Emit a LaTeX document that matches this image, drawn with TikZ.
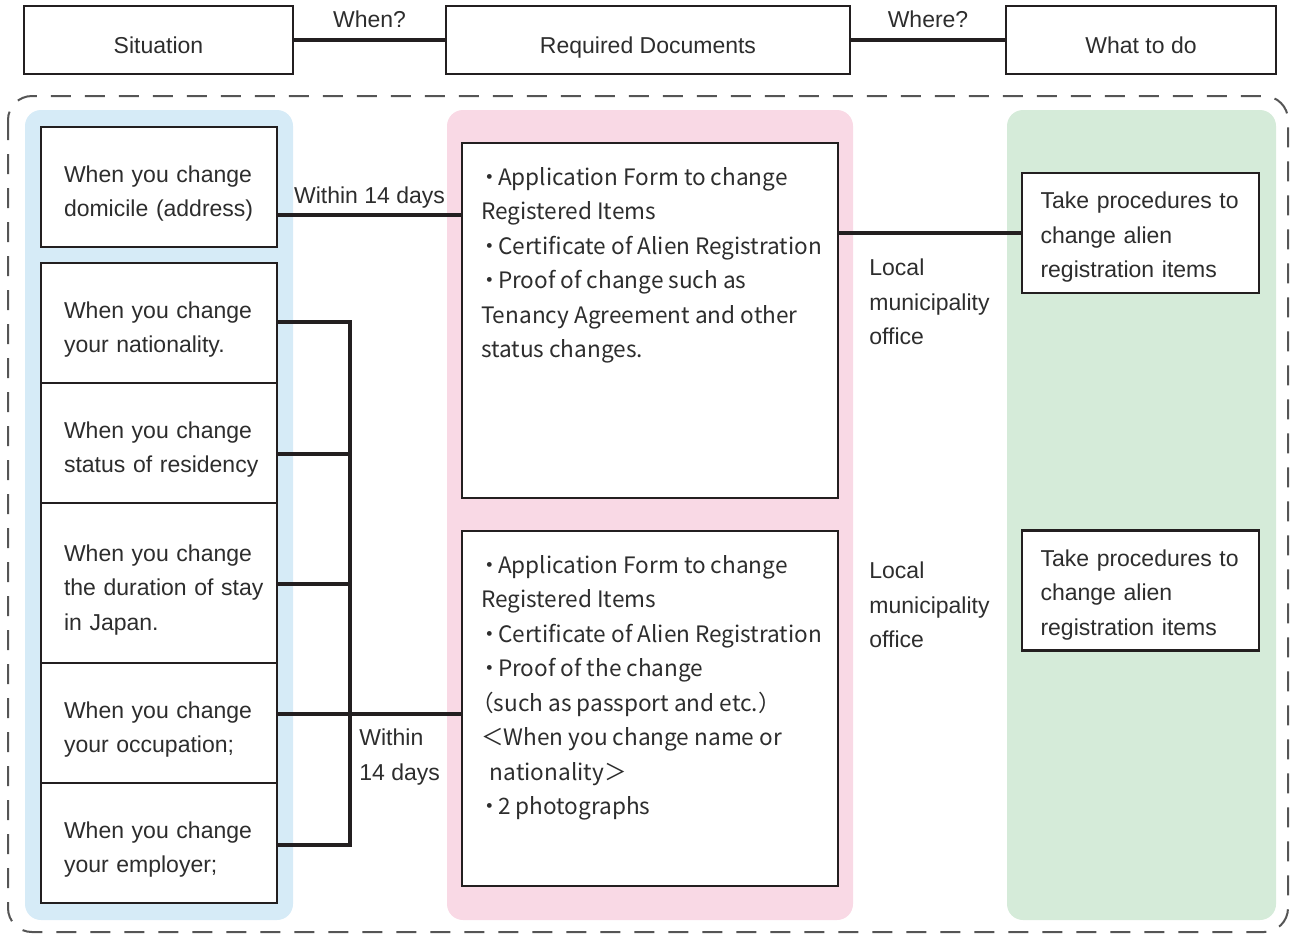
\documentclass[tikz,border=0pt]{standalone}
\usepackage{fontspec}
\setmainfont{Liberation Sans}
\newfontfamily\docfont{Noto Sans CJK JP}
\usepackage{tikz}
\usetikzlibrary{positioning}

\definecolor{paneblue}{RGB}{214,235,247}
\definecolor{panepink}{RGB}{249,217,229}
\definecolor{panegreen}{RGB}{213,235,217}
\definecolor{inkline}{RGB}{35,31,32}
\definecolor{inktext}{RGB}{45,45,45}
\definecolor{framegray}{RGB}{85,85,85}

\newcommand\bul{\makebox[8.5pt][c]{・}}

\tikzset{
  head/.style={draw=inkline, line width=1.2pt, minimum height=34pt,
    text height=13pt, text depth=0pt,
    text=inktext, font=\fontsize{11.5}{17}\selectfont},
  sitbox/.style={draw=inkline, fill=white, line width=1.3pt,
    minimum width=118pt, text width=95pt, inner xsep=11.5pt,
    align=left, text=inktext, font=\fontsize{11.5}{17.25}\selectfont,
    execute at begin node={\rule{0pt}{15pt}}},
  docbox/.style={draw=inkline, fill=white, line width=1.3pt,
    minimum width=188pt, minimum height=177.5pt},
  doctext/.style={anchor=north west, inner sep=0pt, align=left,
    text=inktext, font=\docfont\fontsize{11.3}{17.25}\selectfont},
  actbox/.style={draw=inkline, fill=white, line width=1.3pt,
    minimum width=118.5pt, minimum height=60pt, text width=100pt,
    inner xsep=9.25pt, align=left, text=inktext,
    font=\fontsize{11.5}{17.25}\selectfont,
    execute at begin node={\rule{0pt}{12.5pt}}},
  note/.style={anchor=west, align=left, inner sep=0pt, text=inktext,
    font=\fontsize{11.5}{17.25}\selectfont},
  link/.style={draw=inkline, line width=2pt},
  frame/.style={draw=framegray, line width=1pt,
    dash pattern=on 10pt off 7pt, rounded corners=12pt}
}

\begin{document}
\begin{tikzpicture}[x=0.5pt, y=-0.5pt]
  \useasboundingbox (0,0) rectangle (1293,938);

  % column panels
  \fill[paneblue, rounded corners=8pt] (25,110) rectangle (293,920);
  \fill[panepink, rounded corners=8pt] (447,110) rectangle (853,920);
  \fill[panegreen, rounded corners=8pt] (1007,110) rectangle (1276,920);
  \draw[frame] (8,96) rectangle (1288,932);

  % headings
  \node[head, minimum width=134.5pt] (situ) at (158.5,40) {Situation};
  \node[head, minimum width=202pt] (reqd) at (648,40) {Required Documents};
  \node[head, minimum width=135pt] (todo) at (1141,40) {What to do};
  \draw[link] (situ) -- (reqd) node[midway, above=2pt, text=inktext,
    font=\fontsize{11.5}{17}\selectfont] (when) {When?};
  \draw[link] (reqd) -- (todo) node[midway, above=2pt, text=inktext,
    font=\fontsize{11.5}{17}\selectfont] (where) {Where?};

  % situations
  \node[sitbox, minimum height=60pt] (sit1) at (159,187)
    {When you change\\\mbox{domicile (address)}};
  \node[sitbox, minimum height=60pt] (sit2) at (159,323)
    {When you change\\your nationality.};
  \node[sitbox, minimum height=60pt] (sit3) at (159,443)
    {When you change\\\mbox{status of residency}};
  \node[sitbox, minimum height=80pt] (sit4) at (159,583)
    {When you change\\\mbox{the duration of stay}\\in Japan.};
  \node[sitbox, minimum height=60pt] (sit5) at (159,723)
    {When you change\\your occupation;};
  \node[sitbox, minimum height=60pt] (sit6) at (159,843)
    {When you change\\your employer;};

  % documents
  \node[docbox] (docA) at (650,320.5) {};
  \node[doctext] (docAtxt) at ([xshift=10pt,yshift=-12.5pt]docA.north west)
    {\bul Application Form to change\\
     Registered Items\\
     \bul Certificate of Alien Registration\\
     \bul Proof of change such as\\
     Tenancy Agreement and other\\
     status changes.};
  \node[docbox] (docB) at (650,708.5) {};
  \node[doctext] (docBtxt) at ([xshift=10pt,yshift=-12.5pt]docB.north west)
    {\bul Application Form to change\\
     Registered Items\\
     \bul Certificate of Alien Registration\\
     \bul Proof of the change\\
     \kern-5pt（such as passport and etc.）\\
     ＜When you change name or\\
     \ \,nationality＞\\
     \bul 2 photographs};

  % actions
  \node[actbox] (act1) at (1140.5,233)
    {Take procedures to\\change alien\\registration items};
  \node[actbox] (act2) at (1140.5,590.5)
    {Take procedures to\\change alien\\registration items};

  \node[note] (office1) at (869,302) {Local\\municipality\\office};
  \node[note] (office2) at (869,605) {Local\\municipality\\office};

  % connectors
  \coordinate (w1) at ([yshift=-14pt]sit1.east);
  \draw[link] (w1) -- (w1 -| docA.west) node[midway, above=-1pt,
    text=inktext, font=\fontsize{11.5}{17}\selectfont] (days1) {Within 14 days};
  \draw[link] (docA.east |- act1.west) -- (act1.west);

  \foreach \n/\y in {2/322,3/454,4/584,5/714,6/845}
    \coordinate (br\n) at (350,\y);
  \draw[link] (sit2.east |- br2) -- (br2) -- (br6) -- (sit6.east |- br6);
  \foreach \n in {3,4,5}
    \draw[link] (sit\n.east |- br\n) -- (br\n);
  \draw[link] (br5) -- (br5 -| docB.west);
  \node[note] (days2) at (359,757) {Within\\14 days};
\end{tikzpicture}
\end{document}
